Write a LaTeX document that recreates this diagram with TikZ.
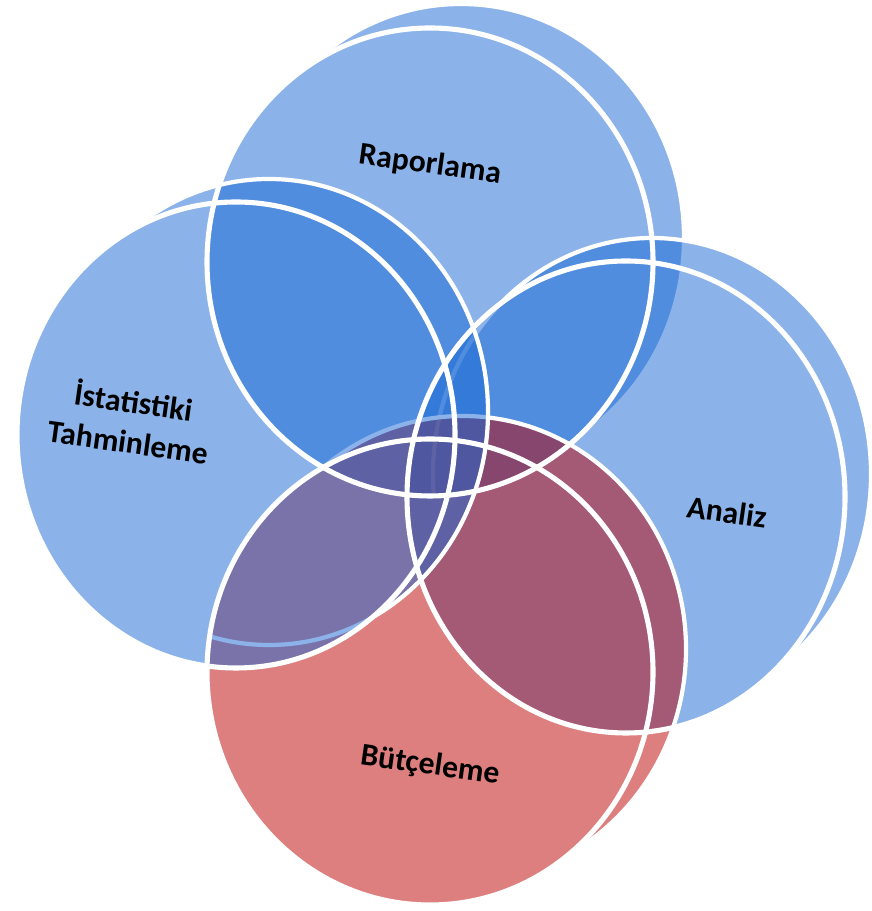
\documentclass[tikz,border=0pt]{standalone}
\usepackage{fontspec}
\setmainfont{Carlito}
\definecolor{dblue}{RGB}{25,105,213}
\definecolor{dred}{RGB}{189,0,0}
\tikzset{
  backline/.style={draw=white, line width=2.4pt},
  frontline/.style={draw=white, line width=2.9pt},
  lbl/.style={font=\fontsize{18}{23}\selectfont\bfseries, text=black, align=center, inner sep=0pt, rotate=-8},
}
% cx cy rx ry dx dy colour
\newcommand\vdisc[7]{%
  \pgfmathsetmacro\vph{atan2(#6/#4,#5/#3)}%
  \pgfmathsetmacro\vpa{\vph+90}%
  \pgfmathsetmacro\vpb{\vph-90}%
  \pgfmathsetmacro\vsx{#1+#5+#3*cos(\vpa)}%
  \pgfmathsetmacro\vsy{#2+#6+#4*sin(\vpa)}%
  \pgfmathsetmacro\vtx{#1+#3*cos(\vpb)}%
  \pgfmathsetmacro\vty{#2+#4*sin(\vpb)}%
  \fill[#7, fill opacity=0.5] (\vsx,\vsy) arc[start angle=\vpa, end angle=\vpb, x radius=#3, y radius=#4]
     -- (\vtx,\vty) arc[start angle=\vpb, end angle=\vpa, x radius=#3, y radius=#4] -- cycle;
  \draw[backline] (#1+#5,#2+#6) ellipse[x radius=#3, y radius=#4];
  \fill[#7, fill opacity=0.5] (#1,#2) ellipse[x radius=#3, y radius=#4];
}
\begin{document}
\begin{tikzpicture}[x=0.02cm, y=0.02cm]
\useasboundingbox (0,0) rectangle (871,911);
\fill[white] (0,0) rectangle (871,911);
% discs: Raporlama, Analiz, Butceleme, Istatistiki
\vdisc{430}{649}{223}{234}{31}{24}{dblue}
\vdisc{626}{414}{219}{236}{26}{23}{dblue}
\vdisc{430}{239}{223}{233}{33}{23}{dred}
\vdisc{236}{476}{219}{233}{33}{23}{dblue}
% front outlines
\draw[frontline] (430,649) ellipse[x radius=223, y radius=234];
\draw[frontline] (626,414) ellipse[x radius=219, y radius=236];
\draw[frontline] (430,239) ellipse[x radius=223, y radius=233];
\draw[frontline] (236,476) ellipse[x radius=219, y radius=233];
% labels
\node[lbl] (rap) at (430,746) {Raporlama};
\node[lbl] (ana) at (727,399) {Analiz};
\node[lbl] (but) at (430,145) {Bütçeleme};
\node[lbl] (ist) at (131,491) {İstatistiki\\Tahminleme};
\end{tikzpicture}
\end{document}
